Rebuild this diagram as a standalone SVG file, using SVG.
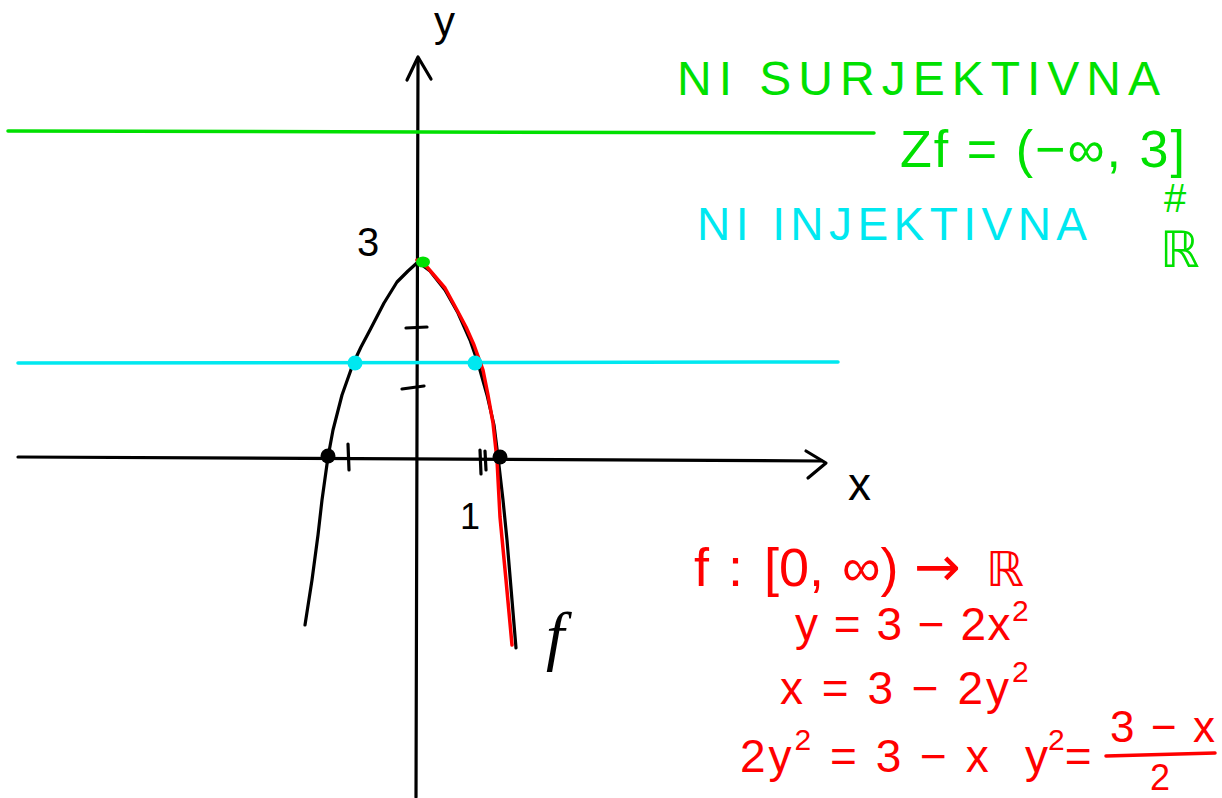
<svg xmlns="http://www.w3.org/2000/svg" width="1222" height="798" viewBox="0 0 1222 798">
<style>
.ink{fill:none;stroke-linecap:round;stroke-linejoin:round}
.k{stroke:#000;stroke-width:3.2}
.t{font-family:"Liberation Sans","DejaVu Sans",sans-serif}
.g{fill:#00e000}
.c{fill:#00e8f0}
.r{fill:#ff0000}
.b{fill:#000}
.sup{font-size:30px}
</style>
<rect width="1222" height="798" fill="#fff"/>
<g id="connectors">
  <path class="ink k" d="M418,60 L416,797"/>
  <path class="ink k" d="M407,80 L418,57 L431,79"/>
  <path class="ink k" d="M18,457 L822,461"/>
  <path class="ink k" d="M806,451 L826,463 L808,478"/>
  <path class="ink k" d="M406,328 L427,327 M402,389 L424,386 M348,444 L349,470 M480,450 L481,474 M485,451 L486,470"/>
  <path class="ink" stroke="#00e000" stroke-width="3.5" d="M8,131 L874,133"/>
  <path class="ink" stroke="#00e8f0" stroke-width="3.5" d="M18,363 L838,362"/>
  <polyline class="ink k" points="418,262 408,271 397,282 384,303 370,330 361,347 353,364 342,395 333,430 328,457 322,500 318,535 312,580 305,625"/>
  <polyline class="ink k" points="418,262 430,271 445,290 458,313 470,340 478,363 487,395 494,425 498,457 503,500 507,540 512,600 516,648"/>
  <polyline class="ink" stroke="#ff0000" stroke-width="3.5" points="417,260 427,267 445,288 457,310 466,327 474,345 483,370 488,395 493,423 497,460 500,517 506,580 512,645"/>
</g>
<g id="points">
  <circle cx="328" cy="456" r="7.5" fill="#000"/>
  <circle cx="500" cy="457" r="7.5" fill="#000"/>
  <circle cx="355" cy="363" r="7.5" fill="#00e8f0"/>
  <circle cx="475" cy="363" r="7.5" fill="#00e8f0"/>
  <ellipse cx="423" cy="262" rx="7" ry="5.5" fill="#00e000"/>
</g>
<g id="axis-labels">
  <text class="t b" x="434" y="36" font-size="42">y</text>
  <text class="t b" x="848" y="500" font-size="46">x</text>
  <text class="t b" x="357" y="256" font-size="40">3</text>
  <text class="t b" x="460" y="529" font-size="36">1</text>
  <text class="b" x="546" y="658" font-size="66" font-family="Liberation Serif,serif" font-style="italic">f</text>
</g>
<g id="surjective">
  <text class="t g" x="677" y="95" font-size="48" textLength="483" lengthAdjust="spacing">NI SURJEKTIVNA</text>
  <text class="t g" x="900" y="167" font-size="52" textLength="285" lengthAdjust="spacing">Zf = (−∞, 3]</text>
  <text class="t g" x="1164" y="212" font-size="40">#</text>
  <text class="g" x="1160" y="267" font-size="50" font-family="DejaVu Sans,sans-serif">ℝ</text>
</g>
<g id="injective">
  <text class="t c" x="697" y="240" font-size="46" textLength="390" lengthAdjust="spacing">NI INJEKTIVNA</text>
</g>
<g id="equations">
  <text class="t r" y="586" font-size="54"><tspan x="694">f</tspan><tspan x="728">:</tspan><tspan x="764">[0,</tspan><tspan x="842">∞)</tspan><tspan x="914" font-family="DejaVu Sans,sans-serif" font-size="56">→</tspan><tspan x="986" font-family="DejaVu Sans,sans-serif" font-size="48">ℝ</tspan></text>
  <text class="t r" x="795" y="640" font-size="46" letter-spacing="1.5">y = 3 − 2x<tspan class="sup" dy="-19">2</tspan></text>
  <text class="t r" x="780" y="704" font-size="46" letter-spacing="3">x = 3 − 2y<tspan class="sup" dy="-22">2</tspan></text>
  <text class="t r" x="740" y="772" font-size="46" letter-spacing="3">2y<tspan class="sup" dy="-22">2</tspan><tspan dy="22"> = 3 − x</tspan></text>
  <text class="t r" x="1025" y="772" font-size="46">y<tspan class="sup" dy="-22">2</tspan><tspan dy="22">=</tspan></text>
  <text class="t r" x="1110" y="742" font-size="44" textLength="105" lengthAdjust="spacing">3 − x</text>
  <path class="ink" stroke="#ff0000" stroke-width="3.5" d="M1106,756 L1215,753"/>
  <text class="t r" x="1150" y="790" font-size="36">2</text>
</g>
</svg>
